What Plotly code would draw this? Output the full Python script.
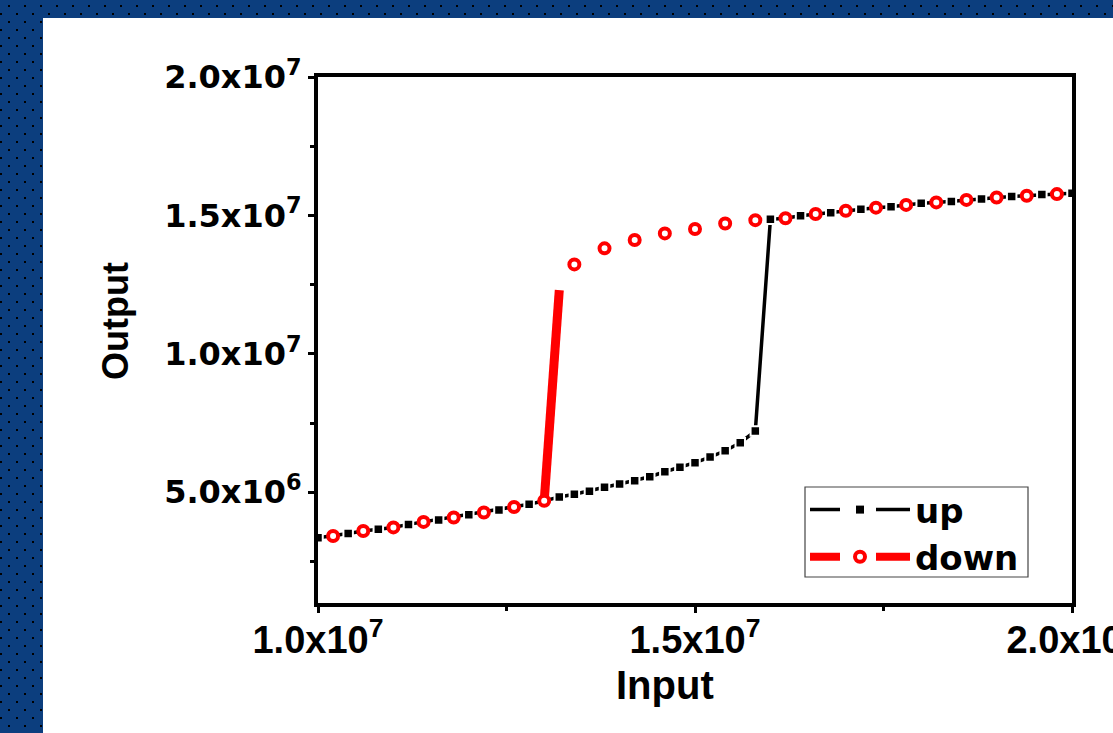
import base64
import plotly.graph_objects as go

# ---------------- data (values in units of 1e6) ----------------
up_input_M = [10.0, 10.2, 10.4, 10.6, 10.8, 11.0, 11.2, 11.4, 11.6, 11.8,
              12.0, 12.2, 12.4, 12.6, 12.8, 13.0, 13.2, 13.4, 13.6, 13.8,
              14.0, 14.2, 14.4, 14.6, 14.8, 15.0, 15.2, 15.4, 15.6, 15.8,
              16.0, 16.2, 16.4, 16.6, 16.8, 17.0, 17.2, 17.4, 17.6, 17.8,
              18.0, 18.2, 18.4, 18.6, 18.8, 19.0, 19.2, 19.4, 19.6, 19.8, 20.0]
up_output_M = [3.36, 3.42, 3.51, 3.60, 3.66, 3.73, 3.84, 3.93, 4.00, 4.09,
               4.19, 4.27, 4.36, 4.47, 4.57, 4.69, 4.83, 4.93, 5.04, 5.18,
               5.30, 5.42, 5.56, 5.74, 5.90, 6.07, 6.27, 6.50, 6.79, 7.21,
               14.86, 14.90, 14.99, 15.05, 15.10, 15.17, 15.22, 15.28, 15.31, 15.38,
               15.44, 15.47, 15.50, 15.56, 15.59, 15.65, 15.68, 15.71, 15.76, 15.77, 15.80]

down_input_M = [10.2, 10.6, 11.0, 11.4, 11.8, 12.2, 12.6, 13.0,
                13.4, 13.8, 14.2, 14.6, 15.0, 15.4, 15.8, 16.2,
                16.6, 17.0, 17.4, 17.8, 18.2, 18.6, 19.0, 19.4, 19.8]
down_output_M = [3.42, 3.60, 3.73, 3.93, 4.09, 4.27, 4.47, 4.69,
                 13.23, 13.81, 14.11, 14.35, 14.51, 14.71, 14.83, 14.90,
                 15.05, 15.17, 15.28, 15.38, 15.47, 15.56, 15.65, 15.71, 15.77]
# unmarked top end of the steep red segment of the down sweep
down_jump_input_M = 13.2
down_jump_output_M = 12.3

x_tick_values = [1.0e7, 1.5e7, 2.0e7]
x_tick_labels = ["1.0x10<sup>7</sup>", "1.5x10<sup>7</sup>", "2.0x10<sup>7</sup>"]
x_minor_values = [1.25e7, 1.75e7]
y_tick_values = [5.0e6, 1.0e7, 1.5e7, 2.0e7]
y_tick_labels = ["5.0x10<sup>6</sup>", "1.0x10<sup>7</sup>", "1.5x10<sup>7</sup>", "2.0x10<sup>7</sup>"]
y_minor_values = [2.5e6, 7.5e6, 1.25e7, 1.75e7]

series_names = ["up", "down"]
x_title = "Input"
y_title = "Output"

# ---------------- figure ----------------
M = 1e6
up_x = [v * M for v in up_input_M]
up_y = [v * M for v in up_output_M]
down_x = [v * M for v in down_input_M]
down_y = [v * M for v in down_output_M]
jump_i = max(range(len(down_y) - 1), key=lambda i: down_y[i + 1] - down_y[i])

W, H = 1113, 733
L, R, T, B = 318, 41, 77, 130
PW, PH = W - L - R, H - T - B


def px_x(px):
    return (px - L) / PW


def px_y(py):
    return (H - B - py) / PH


RED = "#FF0000"
fig = go.Figure()

fig.add_trace(go.Scatter(
    x=up_x, y=up_y, mode="lines+markers", showlegend=False,
    line=dict(color="black", width=3.5),
    marker=dict(symbol="square", size=9.5, color="black",
                line=dict(color="white", width=2)),
))
fig.add_trace(go.Scatter(
    x=[down_x[jump_i], down_jump_input_M * M],
    y=[down_y[jump_i], down_jump_output_M * M],
    mode="lines", showlegend=False,
    line=dict(color=RED, width=9),
))
fig.add_trace(go.Scatter(
    x=down_x, y=down_y, mode="markers", showlegend=False,
    marker=dict(symbol="circle", size=10, color="white",
                line=dict(color=RED, width=4)),
))
# legend entries
fig.add_trace(go.Scatter(
    x=[None], y=[None], mode="lines+markers", name=series_names[0],
    line=dict(color="black", width=3.5, dash="30px,36px,40px"),
    marker=dict(symbol="square", size=8, color="black"),
))
fig.add_trace(go.Scatter(
    x=[None], y=[None], mode="lines+markers", name=series_names[1],
    line=dict(color=RED, width=8, dash="30px,36px,40px"),
    marker=dict(symbol="circle", size=10, color="white",
                line=dict(color=RED, width=4)),
))

svg = f"""<svg xmlns='http://www.w3.org/2000/svg' width='{W}' height='{H}' viewBox='0 0 {W} {H}'>
<defs><pattern id='p' width='16' height='16' patternUnits='userSpaceOnUse'>
<rect width='16' height='16' fill='#0C3E7E'/>
<rect x='8' y='5' width='2' height='2' fill='#000'/>
<rect x='0' y='13' width='2' height='2' fill='#000'/>
</pattern></defs>
<rect width='{W}' height='{H}' fill='url(#p)'/>
<rect x='43' y='18' width='{W - 43}' height='{H - 18}' fill='#FFFFFF'/>
</svg>"""
src = "data:image/svg+xml;base64," + base64.b64encode(svg.encode()).decode()

tick_font_x = dict(family="Liberation Sans", size=38, color="black", weight="bold")
tick_font_y = dict(family="DejaVu Sans", size=32, color="black", weight="bold")

fig.update_layout(
    width=W, height=H,
    margin=dict(l=L, r=R, t=T, b=B, autoexpand=False),
    paper_bgcolor="#0C3E7E", plot_bgcolor="white",
    template="none",
    images=[dict(source=src, xref="paper", yref="paper",
                 x=-L / PW, y=1 + T / PH, sizex=W / PW, sizey=H / PH,
                 xanchor="left", yanchor="top", sizing="stretch", layer="below")],
    shapes=[dict(type="rect", xref="paper", yref="paper",
                 x0=px_x(805), x1=px_x(1028), y0=px_y(577), y1=px_y(487),
                 line=dict(color="#444444", width=1.2), fillcolor="white", layer="above")],
    xaxis=dict(range=[1.0e7, 2.0e7], tickmode="array", tickvals=x_tick_values,
               ticktext=x_tick_labels, ticks="outside", ticklen=6, tickwidth=3,
               tickcolor="black", showline=True, linewidth=4, linecolor="black",
               mirror=True, showgrid=False, zeroline=False, automargin=False,
               ticklabeloverflow="allow", ticklabelstandoff=-6,
               tickfont=tick_font_x,
               minor=dict(tickmode="array", tickvals=x_minor_values, ticks="outside",
                          ticklen=4, tickwidth=3, tickcolor="black", showgrid=False)),
    yaxis=dict(range=[1.0e6, 2.0e7], tickmode="array", tickvals=y_tick_values,
               ticktext=y_tick_labels, ticks="outside", ticklen=6, tickwidth=3,
               tickcolor="black", showline=True, linewidth=4, linecolor="black",
               mirror=True, showgrid=False, zeroline=False, automargin=False,
               ticklabeloverflow="allow",
               tickfont=tick_font_y,
               minor=dict(tickmode="array", tickvals=y_minor_values, ticks="outside",
                          ticklen=4, tickwidth=3, tickcolor="black", showgrid=False)),
    legend=dict(x=px_x(805), y=px_y(481), xanchor="left", yanchor="top",
                bgcolor="rgba(0,0,0,0)", borderwidth=0,
                font=dict(family="DejaVu Sans", size=34, color="black", weight="bold"),
                itemwidth=100, tracegroupgap=0),
    annotations=[
        dict(text=x_title, xref="paper", yref="paper", x=px_x(665),
             y=px_y(685), showarrow=False, xanchor="center", yanchor="middle",
             font=dict(family="Liberation Sans", size=40, color="black", weight="bold")),
        dict(text=y_title, xref="paper", yref="paper", x=px_x(115),
             y=px_y(321), showarrow=False, xanchor="center", yanchor="middle",
             textangle=-90,
             font=dict(family="Liberation Sans", size=36, color="black", weight="bold")),
    ],
)

fig.write_html("out.html")
